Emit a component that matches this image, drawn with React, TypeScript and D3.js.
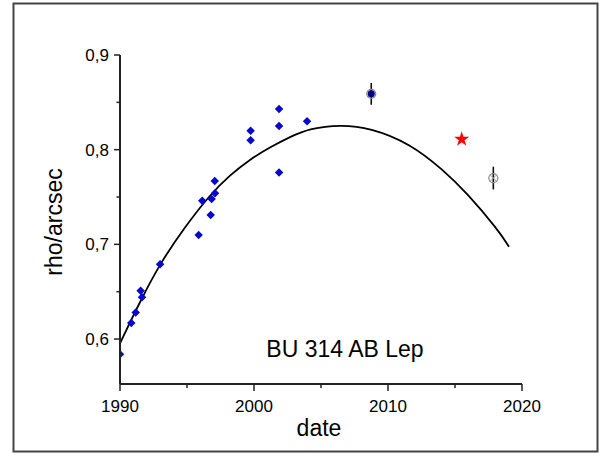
import React from 'react';
import * as d3 from 'd3';

// measured points (year, rho in arcsec)
const obsYears = [1990.0, 1990.84, 1991.17, 1991.54, 1991.64, 1992.99, 1995.87, 1996.14, 1996.84, 1996.77, 1997.07, 1997.09, 1999.75, 1999.75, 2001.87, 2001.87, 2001.87, 2003.96];
const obsRho = [0.584, 0.617, 0.628, 0.651, 0.644, 0.679, 0.710, 0.746, 0.748, 0.731, 0.767, 0.754, 0.820, 0.810, 0.843, 0.825, 0.776, 0.830];

// points with error bars
const errYears = [2008.75, 2017.86];
const errRho = [0.859, 0.770];
const errSize = [0.0115, 0.012];
const errFilled = [true, false];

// recent measurement (star)
const starYear = [2015.5];
const starRho = [0.811];

// orbit curve
const curveYears = [1990.0, 1991.49, 1992.99, 1994.85, 1996.72, 1998.21, 1999.7, 2001.19, 2002.69, 2004.18, 2006.42, 2008.66, 2011.64, 2014.13, 2015.87, 2018.23, 2019.03];
const curveRho = [0.5955, 0.6394, 0.680, 0.7185, 0.7525, 0.7732, 0.7898, 0.8025, 0.8137, 0.8226, 0.8264, 0.8232, 0.8067, 0.7785, 0.7545, 0.7151, 0.6975];

const xMajor = [1990, 2000, 2010, 2020];
const xMinor = [1995, 2005, 2015];
const yMajor = [0.6, 0.7, 0.8, 0.9];
const yMinor = [0.65, 0.75, 0.85];

const W = 601;
const H = 456;
const left = 120, right = 522, top = 55, bottom = 384;
const font = "Liberation Sans, Arial, sans-serif";
const axisColor = "#222";

const App = () => {
  const x = d3.scaleLinear().domain([1990, 2020]).range([left, right]);
  const y = d3.scaleLinear().domain([0.5525, 0.9]).range([bottom, top]);

  const line = d3.line<number>()
    .x((d, i) => x(curveYears[i]))
    .y(d => y(d))
    .curve(d3.curveBasis);

  const diamond = d3.symbol().type(d3.symbolDiamond2).size(46)();
  const star = d3.symbol().type(d3.symbolStar).size(70)();
  const dot = d3.symbol().type(d3.symbolCircle).size(40)();
  const fmt = (v: number) => d3.format(".1f")(v).replace(".", ",");

  return (
    <svg width={W} height={H} style={{ position: 'absolute', left: 0, top: 0, background: '#fff' }}>
      <rect x={0} y={0} width={W} height={H} fill="#fff" />
      <rect x={13.5} y={3.5} width={584} height={448} fill="none" stroke="#444" strokeWidth={2} />
      <defs>
        <clipPath id="plot">
          <rect x={left} y={top - 20} width={right - left + 20} height={bottom - top + 20} />
        </clipPath>
      </defs>

      <g clipPath="url(#plot)">
        <path d={line(curveRho) || ''} fill="none" stroke="#000" strokeWidth={1.8} />
        {obsRho.map((v, i) => (
          <path key={i} d={diamond} transform={`translate(${x(obsYears[i])},${y(v)})`} fill="#0808cc" />
        ))}
      </g>

      {errRho.map((v, i) => (
        <g key={i} transform={`translate(${x(errYears[i])},${y(v)})`}>
          <line x1={0} x2={0} y1={y(v + errSize[i]) - y(v)} y2={y(v - errSize[i]) - y(v)} stroke="#111" strokeWidth={1.6} />
          <circle r={4.5} fill="none" stroke="#888" strokeWidth={1.2} />
          <path d="M-3,-3L3,3M-3,3L3,-3" stroke="#999" strokeWidth={1} />
          {errFilled[i] && <path d={dot} fill="#00008a" />}
        </g>
      ))}

      {starRho.map((v, i) => (
        <path key={i} d={star} transform={`translate(${x(starYear[i])},${y(v)})`} fill="#ff0000" />
      ))}

      {/* axes */}
      <line x1={left} x2={left} y1={top} y2={bottom} stroke={axisColor} strokeWidth={2} />
      <line x1={left} x2={right} y1={bottom} y2={bottom} stroke={axisColor} strokeWidth={2} />
      {yMajor.map(v => (
        <g key={v}>
          <line x1={left - 6} x2={left} y1={y(v)} y2={y(v)} stroke={axisColor} strokeWidth={1.5} />
          <text x={left - 11} y={y(v)} dy="0.36em" textAnchor="end" fontFamily={font} fontSize={17}>{fmt(v)}</text>
        </g>
      ))}
      {yMinor.map(v => (
        <line key={v} x1={left - 3.5} x2={left} y1={y(v)} y2={y(v)} stroke={axisColor} strokeWidth={1.5} />
      ))}
      {xMajor.map(v => (
        <g key={v}>
          <line x1={x(v)} x2={x(v)} y1={bottom} y2={bottom + 7} stroke={axisColor} strokeWidth={1.5} />
          <text x={x(v)} y={412} textAnchor="middle" fontFamily={font} fontSize={17}>{v}</text>
        </g>
      ))}
      {xMinor.map(v => (
        <line key={v} x1={x(v)} x2={x(v)} y1={bottom} y2={bottom + 4} stroke={axisColor} strokeWidth={1.5} />
      ))}

      <text x={319} y={436} textAnchor="middle" fontFamily={font} fontSize={23}>date</text>
      <text transform={`translate(62,222) rotate(-90)`} textAnchor="middle" fontFamily={font} fontSize={23}>rho/arcsec</text>
      <text x={345} y={357} textAnchor="middle" fontFamily={font} fontSize={23}>BU 314 AB Lep</text>
    </svg>
  );
};

export default App;
